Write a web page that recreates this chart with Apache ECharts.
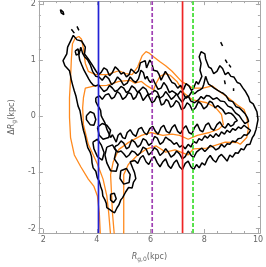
<!DOCTYPE html>
<html><head><meta charset="utf-8">
<script src="https://cdn.jsdelivr.net/npm/echarts@6/dist/echarts.min.js"></script>
<style>html,body{margin:0;padding:0;background:#fff}#c{width:266px;height:267px}</style>
</head><body><div id="c"></div>
<script>
// ---- axes ----
const xRange = [1.84, 10.07];
const yRange = [-2.08, 2.05];
const xMajor = [2, 4, 6, 8, 10];
const xMinor = [2, 2.5, 3, 3.5, 4, 4.5, 5, 5.5, 6, 6.5, 7, 7.5, 8, 8.5, 9, 9.5, 10];
const yMajor = [-2, -1, 0, 1, 2];
const yMinor = [-2, -1.8, -1.6, -1.4, -1.2, -1, -0.8, -0.6, -0.4, -0.2, 0, 0.2, 0.4, 0.6, 0.8, 1, 1.2, 1.4, 1.6, 1.8, 2];
// ---- vertical reference radii (kpc) ----
const refLineX = [4.06, 6.06, 7.19, 7.58];
const refLineColor = ['#2323d6', '#a040b4', '#ee2424', '#3ddd2f'];
const refLineDash = ['solid', 'dashed', 'solid', 'dashed'];

// ---- orange contour ----
const orangeOuter = [[4.13,-2.12],[4.09,-1.72],[4.02,-1.42],[3.89,-1.25],[3.68,-1.12],[3.40,-0.90],[3.16,-0.69],[3.02,-0.38],[2.98,-0.02],[2.98,0.33],[3.02,0.68],[3.05,1.02],[3.09,1.29],[3.19,1.39],[3.33,1.42],[3.43,1.37],[3.50,1.20],[3.57,0.94],[3.68,0.80],[3.95,0.74],[4.37,0.74],[4.82,0.81],[5.07,0.76],[5.31,0.74],[5.52,0.88],[5.69,1.08],[5.83,1.15],[5.93,1.13],[6.11,1.06],[6.35,0.97],[6.56,0.90],[6.80,0.80],[7.15,0.62],[7.57,0.50],[7.95,0.50],[8.30,0.54],[8.54,0.45],[8.89,0.33],[9.23,0.20],[9.48,0.12],[9.58,-0.02],[9.65,-0.20],[9.58,-0.38],[9.34,-0.50],[9.23,-0.47],[8.78,-0.46],[8.09,-0.57],[7.60,-0.58],[7.39,-0.69],[6.91,-0.60],[6.56,-0.64],[6.21,-0.53],[5.86,-0.58],[5.52,-0.69],[5.17,-0.86],[5.00,-1.04],[5.00,-1.42],[5.00,-2.12]];
const orangeHole = [[4.51,-2.12],[4.44,-1.72],[4.37,-1.42],[4.23,-1.12],[4.02,-0.85],[3.68,-0.50],[3.50,-0.15],[3.47,0.15],[3.50,0.33],[3.57,0.50],[3.92,0.54],[4.37,0.55],[4.82,0.62],[5.24,0.64],[5.41,0.59],[5.66,0.62],[5.87,0.54],[6.11,0.47],[6.21,0.59],[6.35,0.71],[6.56,0.76],[6.73,0.73],[6.98,0.62],[7.25,0.41],[7.57,0.29],[8.09,0.24],[8.43,0.15],[8.64,0.03],[8.71,-0.15],[8.54,-0.23],[8.19,-0.29],[7.74,-0.34],[7.40,-0.41],[7.08,-0.34],[6.80,-0.32],[6.46,-0.34],[6.00,-0.29],[5.66,-0.34],[5.17,-0.47],[4.82,-0.59],[4.61,-0.81],[4.51,-1.04],[4.55,-1.42],[4.58,-1.72],[4.65,-2.12]];

// ---- black contours ----
const blackOuter = [[3.05,1.37],[3.12,1.44],[3.26,1.36],[3.43,1.34],[3.57,1.23],[3.54,1.11],[3.68,1.02],[3.82,0.92],[3.96,0.81],[4.06,0.74],[4.16,0.78],[4.26,0.86],[4.37,0.83],[4.47,0.72],[4.58,0.78],[4.68,0.88],[4.79,0.83],[4.90,0.75],[5.00,0.78],[5.10,0.70],[5.20,0.74],[5.27,0.84],[5.34,0.81],[5.45,0.76],[5.55,0.81],[5.62,0.95],[5.69,0.92],[5.80,0.99],[5.85,0.86],[5.90,0.88],[5.97,1.00],[6.04,0.95],[6.11,0.82],[6.18,0.85],[6.25,0.80],[6.32,0.74],[6.39,0.64],[6.46,0.71],[6.55,0.80],[6.63,0.74],[6.72,0.66],[6.80,0.60],[6.90,0.58],[7.01,0.50],[7.12,0.55],[7.22,0.47],[7.32,0.58],[7.43,0.54],[7.52,0.46],[7.60,0.50],[7.70,0.62],[7.78,0.57],[7.91,0.71],[7.84,0.82],[7.88,0.94],[7.81,1.06],[7.88,1.15],[8.02,1.11],[8.05,1.02],[8.12,0.99],[8.16,0.88],[8.26,0.85],[8.35,0.76],[8.47,0.80],[8.58,0.90],[8.68,0.85],[8.78,0.74],[8.89,0.78],[8.99,0.71],[9.10,0.70],[9.23,0.60],[9.33,0.58],[9.44,0.50],[9.52,0.45],[9.65,0.34],[9.70,0.26],[9.82,0.22],[9.90,0.14],[9.96,0.08],[10.00,-0.06],[9.93,-0.23],[9.86,-0.33],[9.79,-0.38],[9.70,-0.50],[9.58,-0.51],[9.47,-0.60],[9.37,-0.58],[9.26,-0.66],[9.16,-0.65],[9.05,-0.73],[8.95,-0.69],[8.85,-0.80],[8.75,-0.74],[8.64,-0.68],[8.54,-0.72],[8.43,-0.82],[8.33,-0.78],[8.22,-0.70],[8.12,-0.76],[8.02,-0.87],[7.91,-0.83],[7.81,-0.92],[7.71,-0.86],[7.60,-0.95],[7.50,-0.90],[7.40,-0.80],[7.29,-0.84],[7.18,-0.95],[7.08,-0.90],[6.97,-0.78],[6.87,-0.83],[6.76,-0.93],[6.66,-0.88],[6.56,-0.76],[6.46,-0.81],[6.35,-0.90],[6.25,-0.83],[6.14,-0.72],[6.04,-0.76],[5.93,-0.86],[5.83,-0.81],[5.72,-0.70],[5.62,-0.74],[5.52,-0.84],[5.41,-0.79],[5.24,-0.81],[5.34,-0.93],[5.40,-1.00],[5.45,-1.11],[5.36,-1.18],[5.31,-1.28],[5.18,-1.27],[5.07,-1.35],[4.96,-1.45],[4.89,-1.49],[4.82,-1.58],[4.75,-1.63],[4.66,-1.72],[4.58,-1.70],[4.47,-1.66],[4.37,-1.63],[4.35,-1.55],[4.30,-1.49],[4.22,-1.42],[4.20,-1.33],[4.14,-1.25],[4.09,-1.16],[4.02,-1.10],[3.96,-0.98],[3.86,-0.92],[3.82,-0.83],[3.80,-0.72],[3.75,-0.64],[3.66,-0.56],[3.61,-0.46],[3.56,-0.35],[3.50,-0.25],[3.46,-0.16],[3.43,-0.08],[3.40,0.02],[3.37,0.10],[3.30,0.18],[3.26,0.27],[3.22,0.36],[3.16,0.45],[3.10,0.55],[3.05,0.64],[3.02,0.72],[2.98,0.81],[2.81,0.90],[2.74,0.99],[2.88,1.11],[2.91,1.23],[3.05,1.37]];
const blackHole = [[3.96,0.33],[4.10,0.36],[4.20,0.30],[4.32,0.38],[4.44,0.40],[4.55,0.31],[4.65,0.34],[4.76,0.44],[4.86,0.40],[4.96,0.30],[5.07,0.34],[5.17,0.42],[5.27,0.40],[5.36,0.30],[5.45,0.34],[5.55,0.45],[5.62,0.40],[5.72,0.28],[5.80,0.33],[5.90,0.39],[5.97,0.36],[6.05,0.24],[6.14,0.27],[6.24,0.36],[6.32,0.33],[6.40,0.20],[6.49,0.22],[6.58,0.30],[6.66,0.27],[6.75,0.16],[6.84,0.19],[6.95,0.28],[7.05,0.24],[7.15,0.12],[7.26,0.15],[7.36,0.24],[7.46,0.20],[7.56,0.10],[7.67,0.15],[7.78,0.26],[7.88,0.22],[7.98,0.13],[8.09,0.17],[8.20,0.27],[8.30,0.24],[8.40,0.15],[8.50,0.19],[8.60,0.15],[8.68,0.12],[8.79,0.04],[8.89,0.06],[9.00,0.05],[9.09,0.01],[9.23,-0.08],[9.12,-0.11],[9.09,-0.15],[8.98,-0.18],[8.89,-0.13],[8.78,-0.21],[8.68,-0.18],[8.58,-0.10],[8.47,-0.15],[8.36,-0.25],[8.26,-0.22],[8.16,-0.12],[8.05,-0.16],[7.94,-0.28],[7.84,-0.25],[7.74,-0.14],[7.64,-0.20],[7.53,-0.32],[7.43,-0.29],[7.32,-0.17],[7.22,-0.22],[7.11,-0.31],[7.01,-0.27],[6.90,-0.15],[6.80,-0.20],[6.70,-0.30],[6.59,-0.27],[6.49,-0.16],[6.39,-0.20],[6.28,-0.32],[6.18,-0.27],[6.08,-0.18],[5.97,-0.22],[5.86,-0.33],[5.76,-0.29],[5.66,-0.20],[5.55,-0.23],[5.45,-0.36],[5.34,-0.32],[5.24,-0.24],[5.13,-0.29],[5.05,-0.40],[4.96,-0.38],[4.88,-0.30],[4.79,-0.34],[4.72,-0.46],[4.65,-0.44],[4.58,-0.33],[4.51,-0.38],[4.44,-0.30],[4.37,-0.23],[4.30,-0.12],[4.27,-0.11],[4.20,-0.03],[4.16,0.01],[4.14,0.10],[4.09,0.15],[4.02,0.20],[3.96,0.26],[3.96,0.33]];
const blackUpperInner = [[3.40,1.23],[3.47,1.12],[3.54,1.06],[3.66,1.00],[3.75,0.92],[3.84,0.80],[3.96,0.71],[4.08,0.70],[4.20,0.64],[4.32,0.72],[4.44,0.67],[4.55,0.56],[4.65,0.60],[4.77,0.70],[4.89,0.64],[5.00,0.55],[5.13,0.59],[5.24,0.70],[5.34,0.64],[5.45,0.60],[5.55,0.67],[5.64,0.82],[5.73,0.78],[5.80,0.66],[5.87,0.71],[5.93,0.64],[6.00,0.60],[6.09,0.66],[6.18,0.57],[6.28,0.48],[6.39,0.50],[6.49,0.60],[6.59,0.54],[6.70,0.42],[6.80,0.45],[6.90,0.42],[7.01,0.38],[7.12,0.45],[7.22,0.40],[7.32,0.32],[7.43,0.36],[7.54,0.44],[7.64,0.40],[7.75,0.45],[7.84,0.47],[7.93,0.50],[7.98,0.57],[8.05,0.71],[8.10,0.64],[8.16,0.57],[8.26,0.54],[8.37,0.50],[8.50,0.46],[8.61,0.43],[8.70,0.41],[8.82,0.36],[8.92,0.28],[9.06,0.26],[9.18,0.17],[9.30,0.15],[9.41,0.10],[9.51,0.05],[9.60,-0.02],[9.65,-0.09],[9.51,-0.13],[9.40,-0.06],[9.30,0.01],[9.16,0.06],[9.02,0.15],[8.88,0.18],[8.75,0.26],[8.60,0.27],[8.47,0.33],[8.33,0.30],[8.19,0.36],[8.08,0.37],[7.98,0.31],[7.88,0.35],[7.78,0.29],[7.64,0.24],[7.50,0.27],[7.40,0.36],[7.29,0.33],[7.18,0.25],[7.08,0.31],[6.97,0.40],[6.87,0.34],[6.77,0.30],[6.66,0.38],[6.56,0.44],[6.46,0.36],[6.35,0.32],[6.25,0.43],[6.15,0.46],[6.04,0.41],[5.93,0.38],[5.83,0.48],[5.72,0.52],[5.62,0.47],[5.52,0.42],[5.41,0.50],[5.30,0.54],[5.20,0.45],[5.10,0.42],[5.00,0.50],[4.90,0.53],[4.79,0.47],[4.68,0.44],[4.58,0.50],[4.47,0.55],[4.37,0.47],[4.26,0.44],[4.16,0.50],[4.06,0.56],[3.96,0.54],[3.87,0.55],[3.78,0.60],[3.70,0.66],[3.61,0.74],[3.52,0.82],[3.43,0.92],[3.36,1.00],[3.33,1.09],[3.40,1.23]];
const blackLowerInner = [[4.79,-0.51],[4.90,-0.44],[5.00,-0.48],[5.10,-0.58],[5.20,-0.55],[5.30,-0.42],[5.41,-0.46],[5.52,-0.55],[5.62,-0.51],[5.72,-0.40],[5.83,-0.43],[5.93,-0.52],[6.04,-0.48],[6.15,-0.36],[6.25,-0.39],[6.35,-0.50],[6.46,-0.46],[6.56,-0.37],[6.66,-0.41],[6.76,-0.44],[6.87,-0.50],[6.97,-0.47],[7.08,-0.55],[7.18,-0.52],[7.29,-0.58],[7.40,-0.50],[7.50,-0.55],[7.60,-0.45],[7.71,-0.48],[7.80,-0.40],[7.91,-0.43],[8.02,-0.35],[8.12,-0.39],[8.22,-0.33],[8.33,-0.38],[8.43,-0.31],[8.54,-0.36],[8.64,-0.28],[8.75,-0.32],[8.85,-0.25],[8.95,-0.29],[9.06,-0.22],[9.16,-0.25],[9.27,-0.19],[9.37,-0.22],[9.48,-0.16],[9.58,-0.20],[9.72,-0.25],[9.66,-0.30],[9.58,-0.34],[9.48,-0.33],[9.37,-0.39],[9.26,-0.40],[9.16,-0.46],[9.05,-0.44],[8.95,-0.50],[8.85,-0.49],[8.75,-0.55],[8.64,-0.50],[8.54,-0.57],[8.43,-0.60],[8.33,-0.55],[8.22,-0.52],[8.12,-0.58],[8.02,-0.63],[7.91,-0.57],[7.81,-0.60],[7.71,-0.64],[7.60,-0.74],[7.50,-0.69],[7.40,-0.62],[7.29,-0.72],[7.18,-0.76],[7.08,-0.67],[6.97,-0.62],[6.87,-0.69],[6.76,-0.73],[6.66,-0.64],[6.56,-0.58],[6.46,-0.65],[6.35,-0.70],[6.25,-0.60],[6.14,-0.56],[6.04,-0.64],[5.93,-0.69],[5.83,-0.58],[5.72,-0.55],[5.62,-0.65],[5.52,-0.70],[5.41,-0.64],[5.30,-0.62],[5.20,-0.69],[5.10,-0.73],[5.00,-0.67],[4.90,-0.62],[4.79,-0.64],[4.72,-0.61],[4.65,-0.57],[4.70,-0.53],[4.79,-0.51]];
const blackIslands = [
  [[3.61,0.01],[3.75,0.08],[3.89,0.05],[3.96,-0.06],[3.89,-0.16],[3.75,-0.15],[3.61,-0.06],[3.61,0.01]],
  [[4.02,-0.20],[4.20,-0.13],[4.37,-0.16],[4.51,-0.25],[4.44,-0.38],[4.23,-0.41],[4.09,-0.34],[4.02,-0.20]],
  [[3.85,-0.46],[4.02,-0.41],[4.16,-0.51],[4.27,-0.65],[4.20,-0.78],[4.02,-0.72],[3.89,-0.58],[3.85,-0.46]],
  [[4.37,-0.55],[4.58,-0.51],[4.72,-0.62],[4.65,-0.76],[4.79,-0.86],[4.72,-0.98],[4.51,-0.97],[4.37,-0.83],[4.30,-0.69],[4.37,-0.55]],
  [[4.89,-0.97],[5.10,-0.93],[5.24,-1.04],[5.20,-1.18],[5.00,-1.21],[4.86,-1.11],[4.89,-0.97]],
  [[4.51,-1.39],[4.65,-1.37],[4.72,-1.47],[4.62,-1.54],[4.51,-1.49],[4.51,-1.39]],
  [[2.64,1.90],[2.74,1.86],[2.77,1.81],[2.67,1.84],[2.64,1.90]],
  [[3.05,1.55],[3.12,1.53],[3.16,1.48],[3.09,1.48],[3.05,1.55]],
  [[3.26,1.60],[3.33,1.58],[3.33,1.53],[3.26,1.53],[3.26,1.60]],
  [[3.19,1.16],[3.30,1.20],[3.33,1.11],[3.23,1.09],[3.19,1.16]],
  [[8.61,1.32],[8.68,1.25]],
  [[8.78,1.01],[8.85,1.01],[8.85,0.95],[8.78,0.95],[8.78,1.01]],
  [[8.92,0.92],[8.99,0.92],[8.99,0.87],[8.92,0.87],[8.92,0.92]],
  [[8.75,0.64],[8.82,0.62],[8.78,0.57],[8.75,0.64]],
  [[9.09,0.50],[9.16,0.47],[9.09,0.45],[9.09,0.50]]
];

const FRAME = '#a8a8a8', LABEL = '#666';
function xAxisDef(pos, ticks, len, labels) {
  return {
    type: 'value', min: xRange[0], max: xRange[1], position: pos,
    axisLine: { show: true, onZero: false, lineStyle: { color: FRAME, width: 1 } },
    axisTick: { show: true, inside: true, length: len, customValues: ticks, lineStyle: { color: FRAME } },
    axisLabel: { show: labels, customValues: xMajor, color: LABEL, fontSize: 8, margin: 3, fontFamily: 'DejaVu Sans' },
    splitLine: { show: false }
  };
}
function yAxisDef(pos, ticks, len, labels) {
  return {
    type: 'value', min: yRange[0], max: yRange[1], position: pos,
    axisLine: { show: true, onZero: false, lineStyle: { color: FRAME, width: 1 } },
    axisTick: { show: true, inside: true, length: len, customValues: ticks, lineStyle: { color: FRAME } },
    axisLabel: { show: labels, customValues: yMajor, color: LABEL, fontSize: 8, margin: 3, fontFamily: 'DejaVu Sans' },
    splitLine: { show: false }
  };
}
const xAxes = [xAxisDef('bottom', xMajor, 4, true), xAxisDef('bottom', xMinor, 2, false), xAxisDef('top', xMajor, 4, false), xAxisDef('top', xMinor, 2, false)];
const yAxes = [yAxisDef('left', yMajor, 4, true), yAxisDef('left', yMinor, 2, false), yAxisDef('right', yMajor, 4, false), yAxisDef('right', yMinor, 2, false)];
const nameStyle = { color: LABEL, fontSize: 8, fontFamily: 'DejaVu Sans',
  rich: { i: { fontStyle: 'italic', fontSize: 8, color: LABEL, fontFamily: 'DejaVu Sans' },
          s: { fontSize: 6, color: LABEL, fontFamily: 'DejaVu Sans', padding: [4, 0, 0, 0] },
          n: { fontSize: 8, color: LABEL, fontFamily: 'DejaVu Sans' } } };
xAxes[0].name = '{i|R}{s|g,0}{n|(kpc)}';
xAxes[0].nameLocation = 'middle';
xAxes[0].nameGap = 19;
xAxes[0].nameTextStyle = nameStyle;
yAxes[0].name = '{n|Δ}{i|R}{s|g}{n|(kpc)}';
yAxes[0].nameLocation = 'middle';
yAxes[0].nameGap = 18;
yAxes[0].nameRotate = 90;
yAxes[0].nameTextStyle = nameStyle;

function lineSeries(data, color, width, type) {
  return { type: 'line', data: data, xAxisIndex: 0, yAxisIndex: 0, symbol: 'none', showSymbol: false,
    clip: true, silent: true, lineStyle: { color: color, width: width, type: type || 'solid' } };
}
const series = [];
series.push(lineSeries(orangeOuter, '#ff8a1e', 1.3));
series.push(lineSeries(orangeHole, '#ff8a1e', 1.3));
[blackOuter, blackHole, blackUpperInner, blackLowerInner].concat(blackIslands).forEach(d => series.push(lineSeries(d, '#000', 1.5)));
refLineX.forEach((x, i) => {
  series.push(lineSeries([[x, yRange[0]], [x, yRange[1]]], refLineColor[i], 1.7, refLineDash[i] === 'dashed' ? [4, 2] : 'solid'));
});

const chart = echarts.init(document.getElementById('c'), null, { renderer: 'canvas' });
chart.setOption({
  animation: false,
  backgroundColor: '#fff',
  grid: { left: 27, top: 1, right: 2, bottom: 29, containLabel: false },
  xAxis: xAxes, yAxis: yAxes, series: series
});
</script></body></html>
